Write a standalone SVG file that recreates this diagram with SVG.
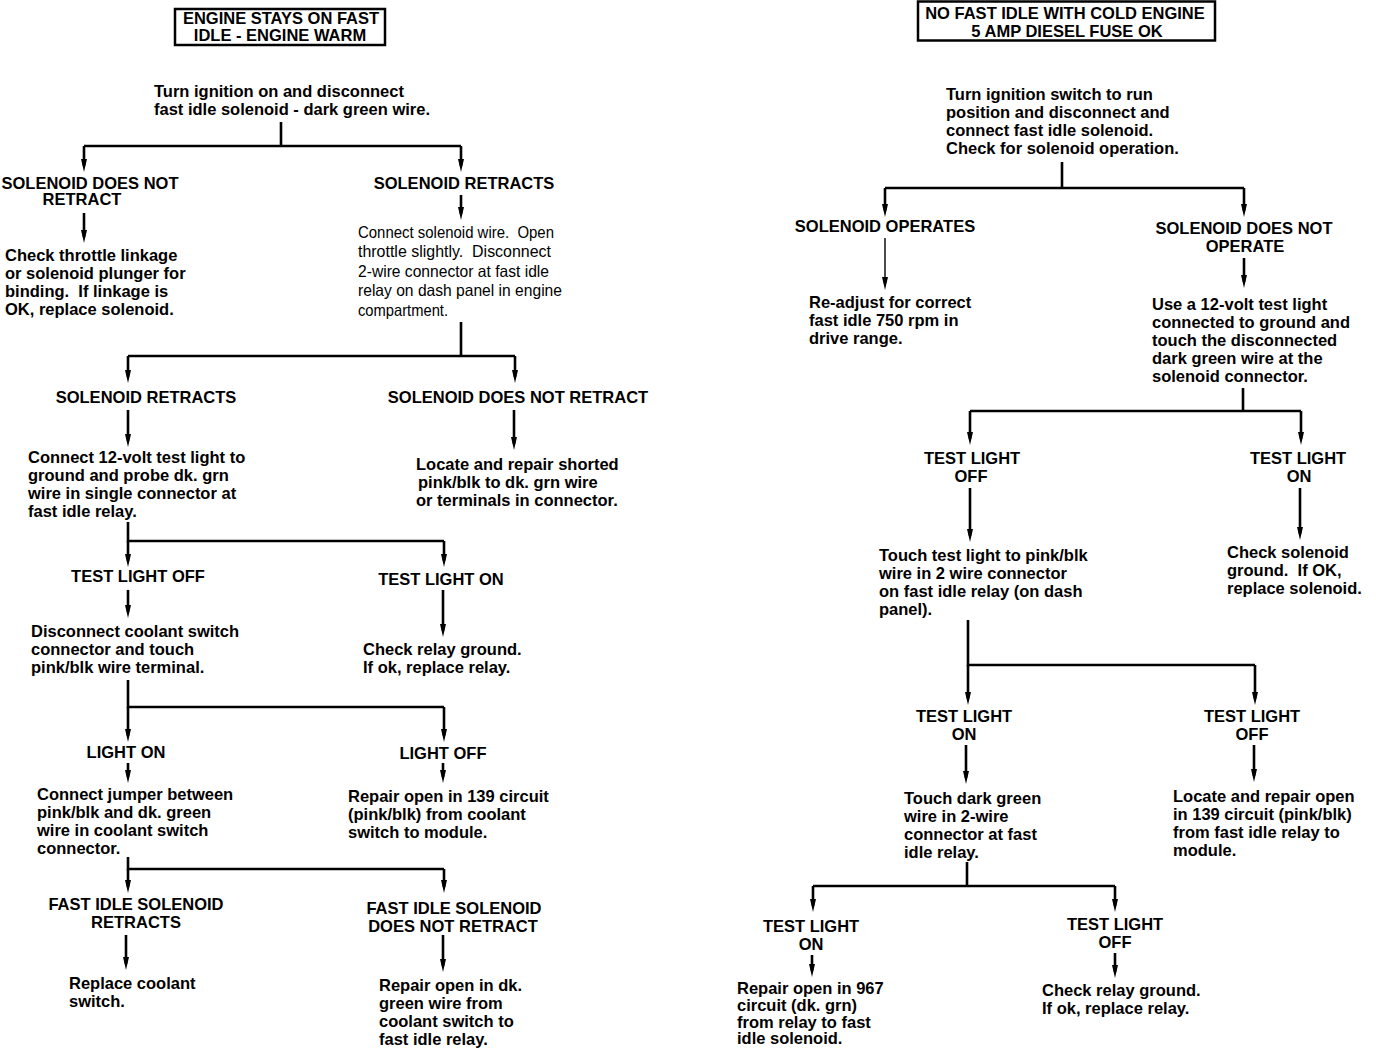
<svg xmlns="http://www.w3.org/2000/svg" width="1376" height="1048" viewBox="0 0 1376 1048">
<style>
text{font-family:"Liberation Sans",Arial,sans-serif;fill:#000;white-space:pre}
.h{font-size:16.5px;font-weight:bold;text-anchor:middle}
.b{font-size:16.5px;font-weight:bold}
.n{font-size:16.5px;font-weight:normal}
.box{fill:none;stroke:#000;stroke-width:2.5}
.c path,.c line{fill:none;stroke:#000;stroke-width:2.6}
.c .thin{stroke-width:1.4}
</style>
<defs>
<marker id="ah" markerUnits="userSpaceOnUse" markerWidth="13" markerHeight="7" viewBox="0 0 13 7" refX="7" refY="3.5" orient="auto">
<path d="M0,0.5 L13,3.5 L0,6.5 Z" fill="#000"/>
</marker>
</defs>
<rect width="1376" height="1048" fill="#fff"/>

<g id="connectors" class="c">
<!-- left column -->
<path d="M281,122 V146 M84,146 H461"/>
<line x1="84" y1="146" x2="84" y2="166" marker-end="url(#ah)"/>
<line x1="461" y1="146" x2="461" y2="166" marker-end="url(#ah)"/>
<line x1="84" y1="213" x2="84" y2="237" marker-end="url(#ah)"/>
<line x1="461" y1="195" x2="461" y2="214" marker-end="url(#ah)"/>
<path d="M461,322 V356 M128,356 H515"/>
<line x1="128" y1="356" x2="128" y2="377" marker-end="url(#ah)"/>
<line x1="515" y1="356" x2="515" y2="377" marker-end="url(#ah)"/>
<line x1="128" y1="410" x2="128" y2="441" marker-end="url(#ah)"/>
<line x1="514" y1="410" x2="514" y2="444" marker-end="url(#ah)"/>
<path d="M128,522 V541 H444"/>
<line x1="128" y1="541" x2="128" y2="561" marker-end="url(#ah)"/>
<line x1="444" y1="541" x2="444" y2="561" marker-end="url(#ah)"/>
<line x1="128" y1="590" x2="128" y2="612" marker-end="url(#ah)"/>
<line x1="443" y1="590" x2="443" y2="631" marker-end="url(#ah)"/>
<path d="M128,680 V707 H444"/>
<line x1="128" y1="707" x2="128" y2="736" marker-end="url(#ah)"/>
<line x1="444" y1="707" x2="444" y2="736" marker-end="url(#ah)"/>
<line x1="128" y1="763" x2="128" y2="777" marker-end="url(#ah)"/>
<line x1="443" y1="763" x2="443" y2="777" marker-end="url(#ah)"/>
<path d="M128,857 V869 H444"/>
<line x1="128" y1="869" x2="128" y2="887" marker-end="url(#ah)"/>
<line x1="444" y1="869" x2="444" y2="887" marker-end="url(#ah)"/>
<line x1="126" y1="935" x2="126" y2="964" marker-end="url(#ah)"/>
<line x1="443" y1="935" x2="443" y2="966" marker-end="url(#ah)"/>
<!-- right column -->
<path d="M1062,162 V188 M885,188 H1244"/>
<line x1="885" y1="188" x2="885" y2="211" marker-end="url(#ah)"/>
<line x1="1244" y1="188" x2="1244" y2="211" marker-end="url(#ah)"/>
<line class="thin" x1="885" y1="238" x2="885" y2="284" marker-end="url(#ah)"/>
<line x1="1244" y1="258" x2="1244" y2="282" marker-end="url(#ah)"/>
<path d="M1243,388 V411 M970,411 H1301"/>
<line x1="970" y1="411" x2="970" y2="439" marker-end="url(#ah)"/>
<line x1="1301" y1="411" x2="1301" y2="439" marker-end="url(#ah)"/>
<line x1="970" y1="488" x2="970" y2="536" marker-end="url(#ah)"/>
<line x1="1300" y1="488" x2="1300" y2="534" marker-end="url(#ah)"/>
<path d="M968,620 V665 H1255"/>
<line x1="968" y1="665" x2="968" y2="699" marker-end="url(#ah)"/>
<line x1="1255" y1="665" x2="1255" y2="699" marker-end="url(#ah)"/>
<line x1="966" y1="745" x2="966" y2="778" marker-end="url(#ah)"/>
<line x1="1254" y1="745" x2="1254" y2="776" marker-end="url(#ah)"/>
<path d="M967,862 V886 M813,886 H1115"/>
<line x1="813" y1="886" x2="813" y2="906" marker-end="url(#ah)"/>
<line x1="1115" y1="886" x2="1115" y2="906" marker-end="url(#ah)"/>
<line x1="812" y1="955" x2="812" y2="971" marker-end="url(#ah)"/>
<line x1="1115" y1="953" x2="1115" y2="972" marker-end="url(#ah)"/>
</g>

<!-- LEFT FLOWCHART -->
<g id="title-left">
<rect class="box" x="175" y="9" width="210" height="36"/>
<text class="h" x="281" y="24">ENGINE STAYS ON FAST</text>
<text class="h" x="280" y="41">IDLE - ENGINE WARM</text>
</g>
<g id="l-start">
<text class="b" x="154" y="97">Turn ignition on and disconnect</text>
<text class="b" x="154" y="115">fast idle solenoid - dark green wire.</text>
</g>
<g id="l-sol-not-retract">
<text class="h" x="90" y="189">SOLENOID DOES NOT</text>
<text class="h" x="82" y="205">RETRACT</text>
</g>
<g id="l-check-throttle">
<text class="b" x="5" y="261">Check throttle linkage</text>
<text class="b" x="5" y="279">or solenoid plunger for</text>
<text class="b" x="5" y="297">binding.  If linkage is</text>
<text class="b" x="5" y="315">OK, replace solenoid.</text>
</g>
<g id="l-sol-retracts">
<text class="h" x="464" y="189">SOLENOID RETRACTS</text>
</g>
<g id="l-connect-solenoid">
<text class="n" x="358" y="238" textLength="196" lengthAdjust="spacingAndGlyphs">Connect solenoid wire.  Open</text>
<text class="n" x="358" y="257" textLength="193" lengthAdjust="spacingAndGlyphs">throttle slightly.  Disconnect</text>
<text class="n" x="358" y="277" textLength="191" lengthAdjust="spacingAndGlyphs">2-wire connector at fast idle</text>
<text class="n" x="358" y="296" textLength="204" lengthAdjust="spacingAndGlyphs">relay on dash panel in engine</text>
<text class="n" x="358" y="316" textLength="90" lengthAdjust="spacingAndGlyphs">compartment.</text>
</g>
<g id="l-sol-retracts-2">
<text class="h" x="146" y="403">SOLENOID RETRACTS</text>
</g>
<g id="l-sol-not-retract-2">
<text class="h" x="518" y="403">SOLENOID DOES NOT RETRACT</text>
</g>
<g id="l-connect-test-light">
<text class="b" x="28" y="463">Connect 12-volt test light to</text>
<text class="b" x="28" y="481">ground and probe dk. grn</text>
<text class="b" x="28" y="499">wire in single connector at</text>
<text class="b" x="28" y="517">fast idle relay.</text>
</g>
<g id="l-locate-shorted">
<text class="b" x="416" y="470">Locate and repair shorted</text>
<text class="b" x="418" y="488">pink/blk to dk. grn wire</text>
<text class="b" x="416" y="506">or terminals in connector.</text>
</g>
<g id="l-test-off">
<text class="h" x="138" y="582">TEST LIGHT OFF</text>
</g>
<g id="l-test-on">
<text class="h" x="441" y="585">TEST LIGHT ON</text>
</g>
<g id="l-disconnect-coolant">
<text class="b" x="31" y="637">Disconnect coolant switch</text>
<text class="b" x="31" y="655">connector and touch</text>
<text class="b" x="31" y="673">pink/blk wire terminal.</text>
</g>
<g id="l-check-relay">
<text class="b" x="363" y="655">Check relay ground.</text>
<text class="b" x="363" y="673">If ok, replace relay.</text>
</g>
<g id="l-light-on">
<text class="h" x="126" y="758">LIGHT ON</text>
</g>
<g id="l-light-off">
<text class="h" x="443" y="759">LIGHT OFF</text>
</g>
<g id="l-connect-jumper">
<text class="b" x="37" y="800">Connect jumper between</text>
<text class="b" x="37" y="818">pink/blk and dk. green</text>
<text class="b" x="37" y="836">wire in coolant switch</text>
<text class="b" x="37" y="854">connector.</text>
</g>
<g id="l-repair-139">
<text class="b" x="348" y="802">Repair open in 139 circuit</text>
<text class="b" x="348" y="820">(pink/blk) from coolant</text>
<text class="b" x="348" y="838">switch to module.</text>
</g>
<g id="l-fis-retracts">
<text class="h" x="136" y="910">FAST IDLE SOLENOID</text>
<text class="h" x="136" y="928">RETRACTS</text>
</g>
<g id="l-fis-not-retract">
<text class="h" x="454" y="914">FAST IDLE SOLENOID</text>
<text class="h" x="453" y="932">DOES NOT RETRACT</text>
</g>
<g id="l-replace-coolant">
<text class="b" x="69" y="989">Replace coolant</text>
<text class="b" x="69" y="1007">switch.</text>
</g>
<g id="l-repair-dkgrn">
<text class="b" x="379" y="991">Repair open in dk.</text>
<text class="b" x="379" y="1009">green wire from</text>
<text class="b" x="379" y="1027">coolant switch to</text>
<text class="b" x="379" y="1045">fast idle relay.</text>
</g>

<!-- RIGHT FLOWCHART -->
<g id="title-right">
<rect class="box" x="918" y="1.5" width="297" height="39"/>
<text class="h" x="1065" y="19">NO FAST IDLE WITH COLD ENGINE</text>
<text class="h" x="1067" y="37">5 AMP DIESEL FUSE OK</text>
</g>
<g id="r-start">
<text class="b" x="946" y="100">Turn ignition switch to run</text>
<text class="b" x="946" y="118">position and disconnect and</text>
<text class="b" x="946" y="136">connect fast idle solenoid.</text>
<text class="b" x="946" y="154">Check for solenoid operation.</text>
</g>
<g id="r-sol-operates">
<text class="h" x="885" y="232">SOLENOID OPERATES</text>
</g>
<g id="r-sol-not-operate">
<text class="h" x="1244" y="234">SOLENOID DOES NOT</text>
<text class="h" x="1245" y="252">OPERATE</text>
</g>
<g id="r-readjust">
<text class="b" x="809" y="308">Re-adjust for correct</text>
<text class="b" x="809" y="326">fast idle 750 rpm in</text>
<text class="b" x="809" y="344">drive range.</text>
</g>
<g id="r-use-test-light">
<text class="b" x="1152" y="310">Use a 12-volt test light</text>
<text class="b" x="1152" y="328">connected to ground and</text>
<text class="b" x="1152" y="346">touch the disconnected</text>
<text class="b" x="1152" y="364">dark green wire at the</text>
<text class="b" x="1152" y="382">solenoid connector.</text>
</g>
<g id="r-test-off-1">
<text class="h" x="972" y="464">TEST LIGHT</text>
<text class="h" x="971" y="482">OFF</text>
</g>
<g id="r-test-on-1">
<text class="h" x="1298" y="464">TEST LIGHT</text>
<text class="h" x="1299" y="482">ON</text>
</g>
<g id="r-touch-pinkblk">
<text class="b" x="879" y="561">Touch test light to pink/blk</text>
<text class="b" x="879" y="579">wire in 2 wire connector</text>
<text class="b" x="879" y="597">on fast idle relay (on dash</text>
<text class="b" x="879" y="615">panel).</text>
</g>
<g id="r-check-sol-ground">
<text class="b" x="1227" y="558">Check solenoid</text>
<text class="b" x="1227" y="576">ground.  If OK,</text>
<text class="b" x="1227" y="594">replace solenoid.</text>
</g>
<g id="r-test-on-2">
<text class="h" x="964" y="722">TEST LIGHT</text>
<text class="h" x="964" y="740">ON</text>
</g>
<g id="r-test-off-2">
<text class="h" x="1252" y="722">TEST LIGHT</text>
<text class="h" x="1252" y="740">OFF</text>
</g>
<g id="r-touch-dkgreen">
<text class="b" x="904" y="804">Touch dark green</text>
<text class="b" x="904" y="822">wire in 2-wire</text>
<text class="b" x="904" y="840">connector at fast</text>
<text class="b" x="904" y="858">idle relay.</text>
</g>
<g id="r-locate-139">
<text class="b" x="1173" y="802">Locate and repair open</text>
<text class="b" x="1173" y="820">in 139 circuit (pink/blk)</text>
<text class="b" x="1173" y="838">from fast idle relay to</text>
<text class="b" x="1173" y="856">module.</text>
</g>
<g id="r-test-on-3">
<text class="h" x="811" y="932">TEST LIGHT</text>
<text class="h" x="811" y="950">ON</text>
</g>
<g id="r-test-off-3">
<text class="h" x="1115" y="930">TEST LIGHT</text>
<text class="h" x="1115" y="948">OFF</text>
</g>
<g id="r-repair-967">
<text class="b" x="737" y="994">Repair open in 967</text>
<text class="b" x="737" y="1011">circuit (dk. grn)</text>
<text class="b" x="737" y="1028">from relay to fast</text>
<text class="b" x="737" y="1044">idle solenoid.</text>
</g>
<g id="r-check-relay">
<text class="b" x="1042" y="996">Check relay ground.</text>
<text class="b" x="1042" y="1014">If ok, replace relay.</text>
</g>
</svg>
